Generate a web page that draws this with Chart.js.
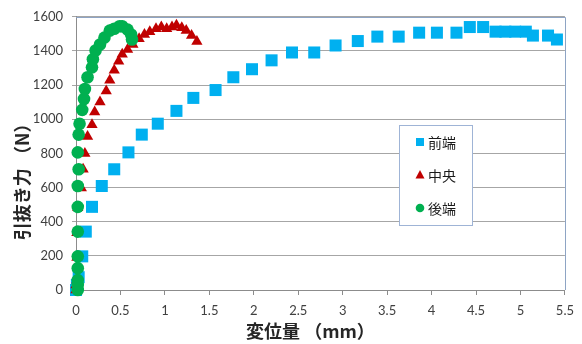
<!DOCTYPE html>
<html>
<head>
<meta charset="utf-8">
<script src="https://cdn.jsdelivr.net/npm/chart.js@4.4.1/dist/chart.umd.min.js"></script>
<style>
  html, body { margin: 0; padding: 0; background: #ffffff; }
  canvas { display: block; }
</style>
</head>
<body>
<canvas id="chart" width="582" height="344"></canvas>
<script>
// Pull-out force vs. displacement, three measuring positions
const seriesNames = ['前端', '中央', '後端'];

// 前端 (front end)
const frontX = [0, 0.01, 0.03, 0.07, 0.11, 0.18, 0.29, 0.43, 0.59, 0.74, 0.92, 1.13, 1.32, 1.57, 1.77, 1.98, 2.20, 2.43, 2.68, 2.92, 3.17, 3.39, 3.63, 3.86, 4.06, 4.28, 4.43, 4.58, 4.72, 4.83, 4.94, 5.06, 5.14, 5.31, 5.41];
const frontY = [0, 30, 75, 197, 342, 487, 609, 707, 806, 910, 974, 1049, 1125, 1171, 1246, 1293, 1345, 1391, 1391, 1432, 1458, 1484, 1484, 1507, 1507, 1507, 1540, 1540, 1513, 1513, 1513, 1513, 1490, 1490, 1467];

// 中央 (middle)
const middleX = [0, 0, 0.01, 0.01, 0.01, 0.02, 0.06, 0.08, 0.10, 0.13, 0.18, 0.21, 0.27, 0.34, 0.38, 0.43, 0.48, 0.52, 0.58, 0.64, 0.71, 0.77, 0.83, 0.90, 0.96, 1.02, 1.08, 1.13, 1.19, 1.24, 1.30, 1.36];
const middleY = [0, 30, 58, 191, 336, 481, 597, 707, 800, 899, 968, 1043, 1101, 1165, 1229, 1287, 1339, 1380, 1409, 1438, 1472, 1496, 1513, 1530, 1540, 1530, 1540, 1550, 1536, 1520, 1490, 1455];

// 後端 (rear end)
const rearX = [0.02, 0.02, 0.02, 0.02, 0.02, 0.02, 0.02, 0.02, 0.03, 0.02, 0.03, 0.04, 0.07, 0.09, 0.10, 0.13, 0.18, 0.19, 0.22, 0.27, 0.32, 0.38, 0.43, 0.49, 0.52, 0.58, 0.62, 0.63];
const rearY = [0, 30, 58, 128, 197, 342, 487, 609, 707, 806, 910, 974, 1055, 1119, 1177, 1246, 1304, 1351, 1403, 1438, 1478, 1519, 1530, 1545, 1545, 1525, 1496, 1467];

const xTicks = [0, 0.5, 1, 1.5, 2, 2.5, 3, 3.5, 4, 4.5, 5, 5.5];
const yTicks = [0, 200, 400, 600, 800, 1000, 1200, 1400, 1600];

const xTitle = '変位量 （mm）';
const yTitle = '引抜き力 （N）';

const colors = ['#00b0f0', '#c00000', '#00b050'];
const styles = ['rect', 'triangle', 'circle'];

const pairs = (xs, ys) => xs.map((x, i) => ({ x: x, y: ys[i] }));

const CJK = '"Noto Sans CJK JP", "Noto Sans", sans-serif';
const NUM = 'Lato, "Open Sans", sans-serif';

// Plot frame, axis titles and the boxed legend inside the plot area
const decorations = {
  id: 'decorations',
  beforeDatasetsDraw(chart) {
    const { ctx, chartArea: a } = chart;
    ctx.save();
    ctx.strokeStyle = '#8ea4c4';
    ctx.lineWidth = 1;
    ctx.beginPath();
    ctx.moveTo(a.left, Math.round(a.top) + 0.5);
    ctx.lineTo(Math.round(a.right) + 0.5, Math.round(a.top) + 0.5);
    ctx.lineTo(Math.round(a.right) + 0.5, a.bottom);
    ctx.stroke();
    ctx.restore();
  },
  afterDraw(chart) {
    const { ctx, chartArea: a } = chart;
    ctx.save();
    ctx.fillStyle = '#262626';
    ctx.font = 'bold 18px ' + CJK;
    ctx.textAlign = 'center';
    ctx.textBaseline = 'middle';
    // x-axis title
    ctx.fillText(xTitle, (a.left + a.right) / 2 - 10, 331);
    // y-axis title (rotated)
    ctx.save();
    ctx.translate(22, (a.top + a.bottom) / 2 + 24);
    ctx.rotate(-Math.PI / 2);
    ctx.fillText(yTitle, 0, 0);
    ctx.restore();

    // legend box
    const bx = 399.5, by = 125.5, bw = 73, bh = 100;
    ctx.fillStyle = '#ffffff';
    ctx.fillRect(bx, by, bw, bh);
    ctx.strokeStyle = '#9fb4d6';
    ctx.lineWidth = 1;
    ctx.strokeRect(bx, by, bw, bh);
    const rows = [142, 175, 208];
    ctx.font = '14px ' + CJK;
    ctx.textAlign = 'left';
    seriesNames.forEach((name, i) => {
      const mx = 420, my = rows[i];
      ctx.fillStyle = colors[i];
      ctx.beginPath();
      if (styles[i] === 'rect') {
        ctx.rect(mx - 4, my - 4, 8, 8);
      } else if (styles[i] === 'triangle') {
        ctx.moveTo(mx, my - 5);
        ctx.lineTo(mx + 4.5, my + 3.5);
        ctx.lineTo(mx - 4.5, my + 3.5);
        ctx.closePath();
      } else {
        ctx.arc(mx, my, 4.3, 0, Math.PI * 2);
      }
      ctx.fill();
      ctx.fillStyle = '#1a1a1a';
      ctx.fillText(name, 428, my + 1);
    });
    ctx.restore();
  }
};

new Chart(document.getElementById('chart'), {
  type: 'scatter',
  data: {
    datasets: [
      { label: seriesNames[0], data: pairs(frontX, frontY), pointStyle: styles[0], pointRadius: 8.5,
        backgroundColor: colors[0], borderWidth: 0, order: 2, clip: false },
      { label: seriesNames[1], data: pairs(middleX, middleY), pointStyle: styles[1], pointRadius: 6.5,
        backgroundColor: colors[1], borderWidth: 0, order: 1, clip: false },
      { label: seriesNames[2], data: pairs(rearX, rearY), pointStyle: styles[2], pointRadius: 6.3,
        backgroundColor: colors[2], borderWidth: 0, order: 0, clip: false }
    ]
  },
  options: {
    responsive: false,
    animation: false,
    events: [],
    layout: { padding: { top: 14, right: 12, left: 0, bottom: 0 } },
    plugins: { legend: { display: false }, tooltip: { enabled: false } },
    scales: {
      x: {
        type: 'linear', min: 0, max: 5.5,
        afterBuildTicks: s => { s.ticks = xTicks.map(v => ({ value: v })); },
        afterFit: s => { s.height = 54; },
        ticks: { callback: v => String(v), color: '#404040', font: { family: NUM, size: 13 }, padding: 8, maxRotation: 0 },
        grid: { drawOnChartArea: false, drawTicks: true, tickLength: 5, color: '#8c8c8c' },
        border: { color: '#8c8c8c' }
      },
      y: {
        min: 0, max: 1600,
        afterBuildTicks: s => { s.ticks = yTicks.map(v => ({ value: v })); },
        afterFit: s => { s.width = 76; },
        ticks: { callback: v => String(v), color: '#404040', font: { family: NUM, size: 13 }, padding: 9 },
        grid: { color: '#a6a6a6', tickLength: 4 },
        border: { color: '#8c8c8c' }
      }
    }
  },
  plugins: [decorations]
});
</script>
</body>
</html>
